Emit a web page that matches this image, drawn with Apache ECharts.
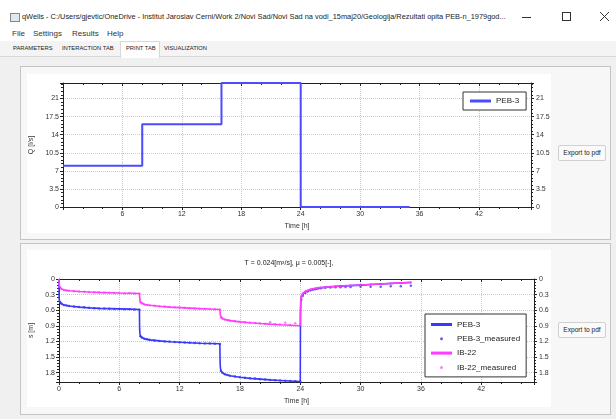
<!DOCTYPE html>
<html>
<head>
<meta charset="utf-8">
<script src="https://cdn.jsdelivr.net/npm/echarts@6.0.0/dist/echarts.min.js"></script>
<style>
  html, body { margin: 0; padding: 0; }
  body { width: 616px; height: 419px; background: #f0f0f0; position: relative; overflow: hidden;
         font-family: "Liberation Sans", Arial, sans-serif; color: #111; }
  .abs { position: absolute; }
  #titlebar { left: 0; top: 0; width: 616px; height: 28px; background: #fff; }
  #title { left: 22px; top: 12px; font-size: 7.4px; white-space: nowrap; color: #222; }
  #icon { left: 10px; top: 13px; width: 8px; height: 7px; border: 1px solid #888; background: #dfe8ef; }
  #menubar { left: 0; top: 28px; width: 616px; height: 13px; background: #fff; }
  .menu { top: 29px; font-size: 8px; color: #333; }
  #tabbar { left: 0; top: 41px; width: 616px; height: 15px; background: #f4f4f4; border-bottom: 1px solid #d8d8d8; }
  .tab { top: 45px; font-size: 5.8px; color: #222; }
  #tabsel { left: 120px; top: 41px; width: 38px; height: 16px; background: #fff; border: 1px solid #d8d8d8; border-bottom: none; }
  .panel { left: 20px; width: 589px; border: 1px solid #c4c4c4; background: #f7f7f7; }
  .chart { left: 27px; width: 524px; background: #fff; }
  .btn { left: 558px; width: 46px; height: 14px; border: 1px solid #d0d0d0; background: #fafafa;
         font-size: 6.6px; line-height: 14px; text-align: center; border-radius: 2px; color: #222; }
  #controls { left: 510px; top: 6px; }
</style>
</head>
<body>
<div id="titlebar" class="abs"></div>
<div id="icon" class="abs"></div>
<div id="title" class="abs">qWells - C:/Users/gjevtic/OneDrive - Institut Jaroslav Cerni/Work 2/Novi Sad/Novi Sad na vodi_15maj20/Geologija/Rezultati opita PEB-n_1979god...</div>
<svg id="controls" class="abs" width="106" height="20" viewBox="0 0 106 20">
  <line x1="12" y1="11.5" x2="21" y2="11.5" stroke="#333" stroke-width="1"/>
  <rect x="52.5" y="6.5" width="8" height="8" fill="none" stroke="#333" stroke-width="1"/>
  <line x1="90" y1="6" x2="99" y2="15" stroke="#333" stroke-width="1"/>
  <line x1="99" y1="6" x2="90" y2="15" stroke="#333" stroke-width="1"/>
</svg>
<div id="menubar" class="abs"></div>
<div class="abs menu" style="left:12px">File</div>
<div class="abs menu" style="left:33px">Settings</div>
<div class="abs menu" style="left:72px">Results</div>
<div class="abs menu" style="left:107px">Help</div>
<div id="tabbar" class="abs"></div>
<div id="tabsel" class="abs"></div>
<div class="abs tab" style="left:13px">PARAMETERS</div>
<div class="abs tab" style="left:62px">INTERACTION TAB</div>
<div class="abs tab" style="left:126px">PRINT TAB</div>
<div class="abs tab" style="left:164px">VISUALIZATION</div>

<div class="abs panel" style="top:66px;height:172px"></div>
<div id="chartTop" class="abs chart" style="top:74px;height:159px"></div>
<div class="abs btn" style="top:145px">Export to pdf</div>

<div class="abs panel" style="top:243px;height:170px"></div>
<div id="chartBottom" class="abs chart" style="top:250px;height:157px"></div>
<div class="abs btn" style="top:322px">Export to pdf</div>

<script>
// ---- pumping rate (top chart) ----
const qTime = [0, 8, 16, 24, 35];
const qFlow = [8, 16, 24, 0, 0];

// ---- drawdown model curves (bottom chart) ----
const lineTime = [
  0, 0.02, 0.05, 0.1, 0.25, 0.5, 1, 2, 3, 4, 5, 6, 7, 8,
  8.02, 8.05, 8.1, 8.25, 8.5, 9, 10, 11, 12, 13, 14, 15, 16,
  16.02, 16.05, 16.1, 16.25, 16.5, 17, 18, 19, 20, 21, 22, 23, 24,
  24.02, 24.05, 24.1, 24.25, 24.5, 25, 26, 27, 28, 29, 30, 31, 32, 33, 34, 35
];
const pebLine = [
  0, 0.38, 0.43, 0.45, 0.48, 0.5, 0.52, 0.54, 0.555, 0.565, 0.57, 0.575, 0.58, 0.585,
  0.95, 1.05, 1.1, 1.13, 1.15, 1.17, 1.19, 1.205, 1.215, 1.225, 1.235, 1.24, 1.245,
  1.55, 1.7, 1.76, 1.8, 1.83, 1.86, 1.89, 1.91, 1.925, 1.94, 1.95, 1.96, 1.97,
  0.7, 0.45, 0.36, 0.29, 0.245, 0.205, 0.17, 0.15, 0.137, 0.127, 0.117, 0.107, 0.097, 0.087, 0.077, 0.067
];
const ibLine = [
  0, 0.1, 0.14, 0.17, 0.19, 0.21, 0.225, 0.24, 0.25, 0.258, 0.264, 0.27, 0.274, 0.278,
  0.34, 0.4, 0.44, 0.47, 0.49, 0.505, 0.525, 0.54, 0.55, 0.56, 0.57, 0.578, 0.585,
  0.64, 0.7, 0.73, 0.76, 0.78, 0.8, 0.825, 0.84, 0.855, 0.868, 0.88, 0.89, 0.9,
  0.6, 0.42, 0.34, 0.28, 0.24, 0.2, 0.165, 0.148, 0.135, 0.125, 0.115, 0.105, 0.095, 0.085, 0.075, 0.065
];

// ---- measured drawdowns ----
const measTime = [
  0.1, 0.25, 0.5, 0.75, 1, 1.5, 2, 2.5, 3, 3.5, 4, 4.5, 5, 5.5, 6, 6.5, 7, 7.5, 8,
  8.1, 8.25, 8.5, 8.75, 9, 9.5, 10, 10.5, 11, 11.5, 12, 12.5, 13, 13.5, 14, 14.5, 15, 15.5, 16,
  16.1, 16.25, 16.5, 16.75, 17, 17.5, 18, 18.5, 19, 19.5, 20, 20.5, 21, 21.5, 22, 22.5, 23, 23.5, 24,
  24.1, 24.25, 24.5, 24.75, 25, 25.25, 25.5, 25.75, 26, 26.5, 27, 27.5, 28, 28.5, 29, 30, 31, 32, 33, 34, 35
];
const pebMeas = [
  0.44, 0.47, 0.5, 0.51, 0.52, 0.53, 0.54, 0.545, 0.555, 0.56, 0.565, 0.565, 0.57, 0.575, 0.575, 0.58, 0.58, 0.585, 0.59,
  1.1, 1.13, 1.15, 1.16, 1.17, 1.18, 1.19, 1.2, 1.2, 1.21, 1.215, 1.22, 1.225, 1.23, 1.235, 1.24, 1.24, 1.245, 1.25,
  1.77, 1.8, 1.83, 1.845, 1.86, 1.875, 1.89, 1.9, 1.91, 1.915, 1.925, 1.93, 1.94, 1.945, 1.95, 1.955, 1.96, 1.965, 1.97,
  0.4, 0.32, 0.27, 0.24, 0.22, 0.205, 0.195, 0.185, 0.18, 0.17, 0.165, 0.16, 0.158, 0.155, 0.152, 0.15, 0.148, 0.15, 0.14, 0.138, 0.132
];
const ibMeas = [
  0.17, 0.19, 0.21, 0.22, 0.225, 0.235, 0.24, 0.245, 0.25, 0.255, 0.26, 0.262, 0.265, 0.268, 0.27, 0.28, 0.275, 0.278, 0.28,
  0.45, 0.47, 0.49, 0.5, 0.505, 0.515, 0.525, 0.53, 0.54, 0.545, 0.55, 0.555, 0.56, 0.565, 0.57, 0.575, 0.578, 0.58, 0.585,
  0.74, 0.76, 0.78, 0.79, 0.8, 0.81, 0.82, 0.83, 0.84, 0.845, 0.85, 0.86, 0.83, 0.87, 0.875, 0.84, 0.885, 0.85, 0.9,
  0.34, 0.28, 0.24, 0.22, 0.2, 0.19, 0.18, 0.172, 0.165, 0.157, 0.148, 0.142, 0.135, 0.13, 0.125, 0.115, 0.105, 0.095, 0.085, 0.075, 0.065
];

const zip = (xs, ys) => xs.map((x, i) => [x, ys[i]]);

const FONT = "Liberation Sans";
const AXIS_COLOR = "#222";
const LABEL_COLOR = "#333";
const T_MAX = 47.25;

const timeAxes = (showZero) => [
  {
    type: "value", min: 0, max: T_MAX, interval: 6, position: "bottom",
    name: "Time [h]", nameLocation: "middle", nameGap: 12,
    nameTextStyle: { fontSize: 7, color: LABEL_COLOR, fontFamily: FONT },
    axisLine: { show: true, onZero: false, lineStyle: { color: AXIS_COLOR } },
    axisTick: { show: true, length: 3, lineStyle: { color: AXIS_COLOR } },
    minorTick: { show: true, splitNumber: 3, length: 2, lineStyle: { color: AXIS_COLOR } },
    axisLabel: { fontSize: 7, color: LABEL_COLOR, fontFamily: FONT, margin: 4,
                 showMinLabel: showZero, showMaxLabel: false },
    splitLine: { show: true, lineStyle: { type: "dotted", color: "#c8c8c8" } },
  },
  {
    type: "value", min: 0, max: T_MAX, interval: 6, position: "top",
    axisLine: { show: true, onZero: false, lineStyle: { color: AXIS_COLOR } },
    axisTick: { show: true, inside: true, length: 3, lineStyle: { color: AXIS_COLOR } },
    minorTick: { show: true, splitNumber: 3, length: 2, lineStyle: { color: AXIS_COLOR } },
    axisLabel: { show: false },
    splitLine: { show: false },
  },
];

const valueAxes = (opts) => [
  {
    type: "value", position: "left", min: 0, max: opts.max, interval: opts.interval, inverse: opts.inverse,
    name: opts.name, nameLocation: "middle", nameGap: opts.nameGap, nameRotate: 90,
    nameTextStyle: { fontSize: 7, color: LABEL_COLOR, fontFamily: FONT },
    axisLine: { show: true, onZero: false, lineStyle: { color: AXIS_COLOR } },
    axisTick: { show: true, length: 3, lineStyle: { color: AXIS_COLOR } },
    minorTick: { show: true, splitNumber: 5, length: 2, lineStyle: { color: AXIS_COLOR } },
    axisLabel: { fontSize: 7, color: LABEL_COLOR, fontFamily: FONT, margin: 4, showMaxLabel: false },
    splitLine: { show: true, lineStyle: { type: "dotted", color: "#c8c8c8" } },
  },
  {
    type: "value", position: "right", min: 0, max: opts.max, interval: opts.interval, inverse: opts.inverse,
    axisLine: { show: true, onZero: false, lineStyle: { color: AXIS_COLOR } },
    axisTick: { show: true, length: 3, lineStyle: { color: AXIS_COLOR } },
    minorTick: { show: true, splitNumber: 5, length: 2, lineStyle: { color: AXIS_COLOR } },
    axisLabel: { fontSize: 7, color: LABEL_COLOR, fontFamily: FONT, margin: 5, showMaxLabel: false },
    splitLine: { show: false },
  },
];

const lineIcon = "path://M0,0h21v3h-21z";

// ---- top chart: Q ----
const topChart = echarts.init(document.getElementById("chartTop"));
topChart.setOption({
  animation: false,
  textStyle: { fontFamily: FONT },
  grid: { left: 36, top: 9, width: 468, height: 124, containLabel: false, outerBoundsMode: "none" },
  xAxis: timeAxes(false),
  yAxis: valueAxes({ max: 24, interval: 3.5, name: "Q [l/s]", nameGap: 20, inverse: false }),
  legend: {
    data: [{ name: "PEB-3", icon: lineIcon }],
    left: 436, top: 18, orient: "vertical",
    backgroundColor: "#fff", borderColor: "#333", borderWidth: 1, borderRadius: 0,
    padding: [4, 7, 4, 7], itemWidth: 21, itemHeight: 3, itemGap: 4,
    textStyle: { fontSize: 8, color: "#222", fontFamily: FONT, lineHeight: 10 },
  },
  series: [
    {
      name: "PEB-3", type: "line", step: "end", data: zip(qTime, qFlow),
      showSymbol: false, clip: false, color: "#4b4bff", lineStyle: { width: 2 },
    },
  ],
});

// ---- bottom chart: drawdown ----
const bottomChart = echarts.init(document.getElementById("chartBottom"));
bottomChart.setOption({
  animation: false,
  textStyle: { fontFamily: FONT },
  title: {
    text: "T = 0.024[m³/s], μ = 0.005[-],",
    left: "center", top: 5,
    textStyle: { fontSize: 7, fontWeight: "normal", color: "#222", fontFamily: FONT },
  },
  grid: { left: 32, top: 29, width: 475, height: 103, containLabel: false, outerBoundsMode: "none" },
  xAxis: timeAxes(true),
  yAxis: valueAxes({ max: 1.98, interval: 0.3, name: "s [m]", nameGap: 18, inverse: true }),
  legend: {
    data: [
      { name: "PEB-3", icon: lineIcon },
      { name: "PEB-3_measured", icon: "circle" },
      { name: "IB-22", icon: lineIcon },
      { name: "IB-22_measured", icon: "circle" },
    ],
    left: 398, top: 64, orient: "vertical",
    backgroundColor: "#fff", borderColor: "#333", borderWidth: 1, borderRadius: 0,
    padding: [5, 6, 4, 6], itemWidth: 21, itemHeight: 3, itemGap: 3.3, itemTextGap: 4,
    textStyle: { fontSize: 8, color: "#222", fontFamily: FONT, lineHeight: 11 },
  },
  series: [
    { name: "PEB-3", type: "line", data: zip(lineTime, pebLine), showSymbol: false,
      color: "#3838ff", lineStyle: { width: 1.6 } },
    { name: "PEB-3_measured", type: "scatter", data: zip(measTime, pebMeas),
      symbolSize: 2.5, color: "#3a3ae8" },
    { name: "IB-22", type: "line", data: zip(lineTime, ibLine), showSymbol: false,
      color: "#ff3cff", lineStyle: { width: 1.6 } },
    { name: "IB-22_measured", type: "scatter", data: zip(measTime, ibMeas),
      symbolSize: 2.5, color: "#ff5cff" },
  ],
});
</script>
</body>
</html>
